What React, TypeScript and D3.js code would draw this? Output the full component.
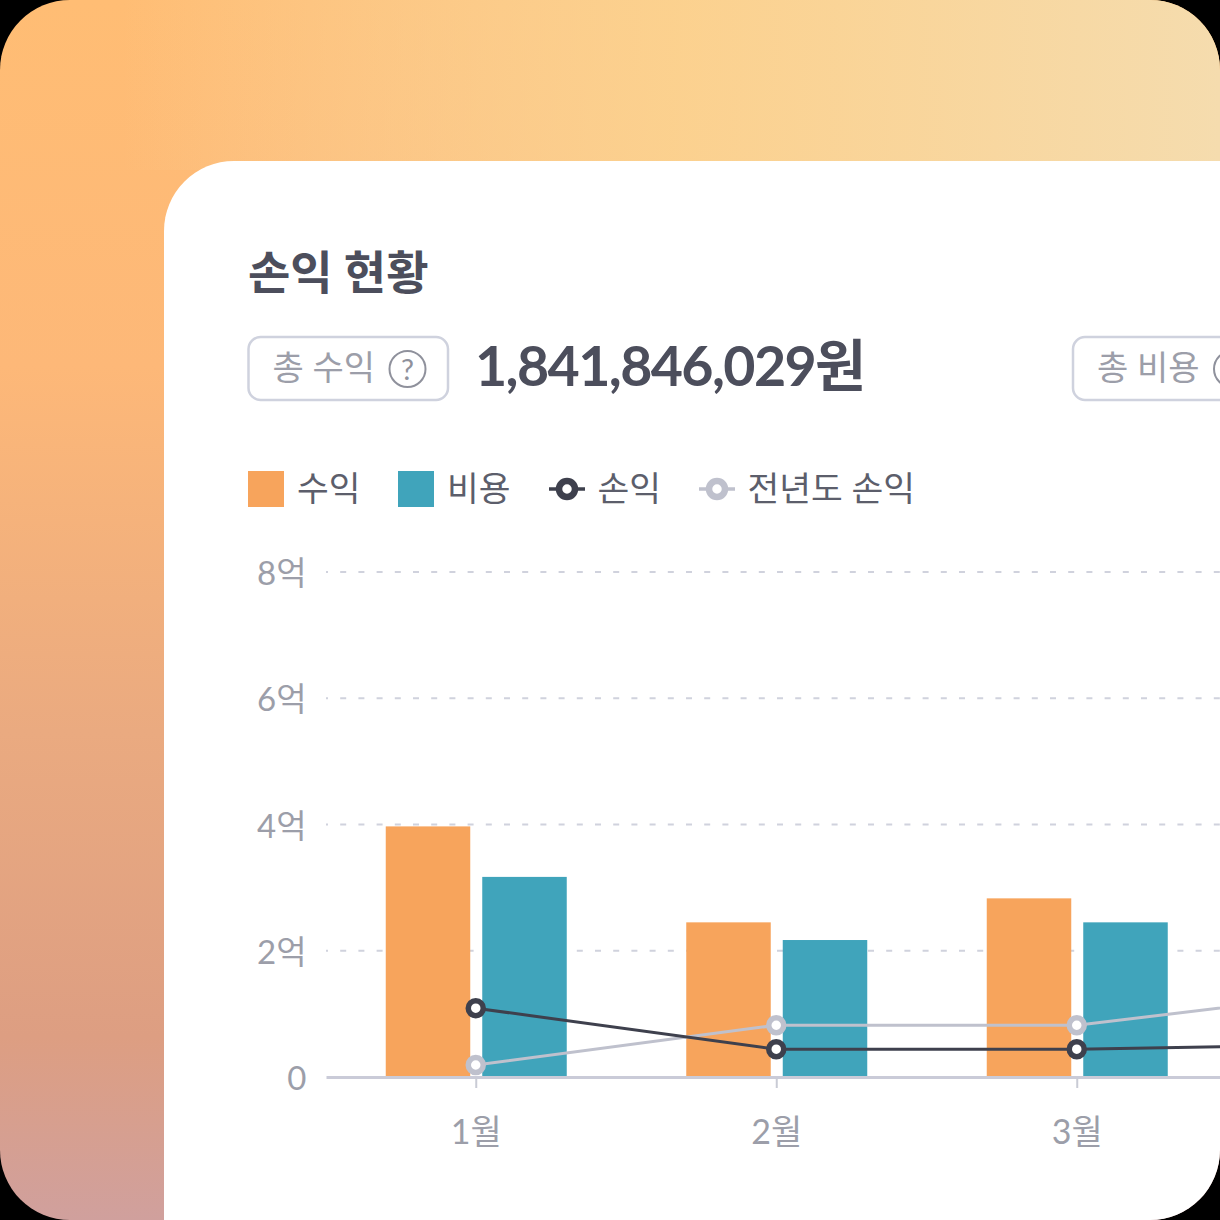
import React, { useRef, useEffect } from 'react';
import * as d3 from 'd3';

// values are in 억 원
const MONTHS = ['1월', '2월', '3월', '4월'];
const REVENUE = [3.97, 2.45, 2.83];
const COST = [3.17, 2.17, 2.45];
const PROFIT = [1.09, 0.44, 0.44, 0.52];
const PREV_PROFIT = [0.19, 0.82, 0.82, 1.39];
const Y_TICKS = [0, 2, 4, 6, 8];

const SIZE = 1220;
const FONT = 'Lato, "Noto Sans CJK KR", sans-serif';
const ORANGE = '#f7a45c';
const TEAL = '#40a4bb';
const DARK = '#3e404d';
const PALE = '#bfc1cd';
const LABEL = '#9c9ea9';
const BAR_WIDTH = 84.5;
const BAR_GAP = 11.5;

const App: React.FC = () => {
    const ref = useRef<SVGSVGElement>(null);

    useEffect(() => {
        if (!ref.current) return;

        const svg = d3.select(ref.current);
        svg.selectAll('*').remove(); // Clear previous render

        const x = d3.scaleBand<string>().domain(MONTHS).range([326, 326 + 300.5 * MONTHS.length]);
        const y = d3.scaleLinear().domain([0, 8]).range([1077, 572]);
        const center = (i: number) => (x(MONTHS[i]) as number) + x.bandwidth() / 2;

        // Background
        const defs = svg.append('defs');
        const vert = defs.append('linearGradient').attr('id', 'bg-vert')
            .attr('x1', 0).attr('y1', 0).attr('x2', 0).attr('y2', 1);
        [[0, '#ffbd74'], [0.3, '#fdb878'], [0.6, '#eaaa80'], [0.85, '#dd9e82'], [1, '#d0a09d']].forEach(([o, c]) => {
            vert.append('stop').attr('offset', o).attr('stop-color', c);
        });
        const horiz = defs.append('linearGradient').attr('id', 'bg-horiz')
            .attr('x1', 0).attr('y1', 0).attr('x2', 1).attr('y2', 0);
        horiz.append('stop').attr('offset', 0.1).attr('stop-color', '#f6dcab').attr('stop-opacity', 0);
        horiz.append('stop').attr('offset', 0.55).attr('stop-color', '#fbd695').attr('stop-opacity', 0.8);
        horiz.append('stop').attr('offset', 1).attr('stop-color', '#f5dcae').attr('stop-opacity', 1);
        defs.append('clipPath').attr('id', 'frame').append('rect')
            .attr('width', SIZE).attr('height', SIZE).attr('rx', 70);

        svg.append('rect').attr('width', SIZE).attr('height', SIZE).attr('fill', '#000');
        const root = svg.append('g').attr('clip-path', 'url(#frame)');
        root.append('rect').attr('width', SIZE).attr('height', SIZE).attr('fill', 'url(#bg-vert)');
        root.append('rect').attr('width', SIZE).attr('height', 170).attr('fill', 'url(#bg-horiz)');
        root.append('rect').attr('x', 164).attr('y', 161).attr('width', 1300).attr('height', 1300)
            .attr('rx', 70).attr('fill', '#fff');

        const text = (tx: number, ty: number, s: string, size: number, fill: string, weight = 400) =>
            root.append('text').attr('x', tx).attr('y', ty).text(s)
                .attr('font-family', FONT).attr('font-size', size)
                .attr('font-weight', weight).attr('fill', fill);

        // Header
        text(248, 289, '손익 현황', 46, '#4c4e5c', 700);

        const badge = (bx: number, label: string, showMark: boolean) => {
            root.append('rect').attr('x', bx).attr('y', 337).attr('width', 199.5).attr('height', 63)
                .attr('rx', 12).attr('fill', 'none').attr('stroke', '#cfd2de').attr('stroke-width', 2.5);
            text(bx + 24, 380, label, 34, LABEL);
            root.append('circle').attr('cx', bx + 159).attr('cy', 369).attr('r', 18)
                .attr('fill', 'none').attr('stroke', '#8f919c').attr('stroke-width', 2);
            // the second mark sits past the right edge of the frame
            if (showMark) text(bx + 159, 380, '?', 29, '#8f919c').attr('text-anchor', 'middle');
        };
        badge(248.5, '총 수익', true);
        badge(1073, '총 비용', false);
        text(475, 386, '1,841,846,029원', 55.5, '#4c4e5c', 700).attr('letter-spacing', -1.6);

        // Legend
        const swatch = (sx: number, fill: string, label: string) => {
            root.append('rect').attr('x', sx).attr('y', 471).attr('width', 36).attr('height', 36).attr('fill', fill);
            text(sx + 49, 500.5, label, 34.5, '#5c5e6b');
        };
        const lineKey = (sx: number, stroke: string, label: string) => {
            root.append('line').attr('x1', sx).attr('x2', sx + 36).attr('y1', 489).attr('y2', 489)
                .attr('stroke', stroke).attr('stroke-width', 3.5);
            root.append('circle').attr('cx', sx + 18).attr('cy', 489).attr('r', 8)
                .attr('fill', '#fff').attr('stroke', stroke).attr('stroke-width', 6.5);
            text(sx + 48.5, 500.5, label, 34.5, '#5c5e6b');
        };
        swatch(248, ORANGE, '수익');
        swatch(398, TEAL, '비용');
        lineKey(549, DARK, '손익');
        lineKey(699, PALE, '전년도 손익');

        // Grid lines
        root.append('g').selectAll('line')
            .data(Y_TICKS.filter(d => d > 0))
            .join('line')
            .attr('x1', 326).attr('x2', SIZE)
            .attr('y1', d => y(d)).attr('y2', d => y(d))
            .attr('stroke', '#d0d2dd').attr('stroke-width', 2.2)
            .attr('stroke-dasharray', '6 12.2').attr('stroke-dashoffset', 4);

        // Bars
        const bars = (values: number[], offset: number, fill: string) => {
            root.append('g').selectAll('rect')
                .data(values)
                .join('rect')
                .attr('x', (_, i) => center(i) + offset)
                .attr('y', d => y(d))
                .attr('width', BAR_WIDTH)
                .attr('height', d => y(0) - y(d))
                .attr('fill', fill);
        };
        bars(REVENUE, -BAR_WIDTH - BAR_GAP / 2 - 0.25, ORANGE);
        bars(COST, BAR_GAP / 2 + 0.25, TEAL);

        // Y axis labels
        const yAxis = d3.axisLeft(y).tickValues(Y_TICKS).tickSize(0).tickPadding(0)
            .tickFormat(d => (+d === 0 ? '0' : `${d}억`));
        const yG = root.append('g').attr('transform', 'translate(306.5,2)').call(yAxis);
        yG.select('.domain').remove();
        yG.selectAll('text').attr('font-family', FONT).attr('font-size', 33).attr('fill', LABEL)
            .attr('font-weight', 400);

        // X axis, the fourth month lies past the edge of the frame
        const xAxis = d3.axisBottom(x).tickValues(MONTHS.slice(0, 3)).tickSize(11).tickSizeOuter(0).tickPadding(32);
        const xG = root.append('g').attr('transform', `translate(0,${y(0)})`).call(xAxis);
        xG.select('.domain').attr('stroke', '#cacbd8').attr('stroke-width', 3);
        xG.selectAll('.tick line').attr('stroke', '#c9cbd5').attr('stroke-width', 2);
        xG.selectAll('text').attr('font-family', FONT).attr('font-size', 34).attr('fill', LABEL)
            .attr('font-weight', 400);

        // Lines
        const line = d3.line<number>().x((_, i) => center(i) - 0.5).y(d => y(d));
        const series = (values: number[], stroke: string) => {
            root.append('path').attr('d', line(values)).attr('fill', 'none')
                .attr('stroke', stroke).attr('stroke-width', 3);
            root.append('g').selectAll('circle')
                .data(values)
                .join('circle')
                .attr('cx', (_, i) => center(i) - 0.5)
                .attr('cy', d => y(d))
                .attr('r', 7.5)
                .attr('fill', '#fff')
                .attr('stroke', stroke)
                .attr('stroke-width', 5.5);
        };
        series(PREV_PROFIT, PALE);
        series(PROFIT, DARK);
    }, []);

    return (
        <svg ref={ref} width={SIZE} height={SIZE} style={{ position: 'absolute', left: 0, top: 0 }}></svg>
    );
};

export default App;
